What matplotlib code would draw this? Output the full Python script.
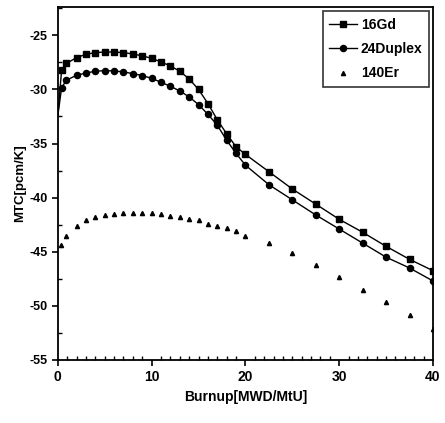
import matplotlib
matplotlib.use("Agg")
import matplotlib.pyplot as plt
from matplotlib.ticker import MultipleLocator

plt.rcParams['font.family'] = ['Liberation Sans Narrow', 'Liberation Sans', 'DejaVu Sans']
plt.rcParams['font.weight'] = 'bold'
plt.rcParams['axes.unicode_minus'] = False

# burnup points (MWD/MtU)
burnup = [0, 0.4, 0.9, 2, 3, 4, 5, 6, 7, 8, 9, 10, 11, 12, 13, 14, 15, 16, 17, 18,
          19, 20, 22.5, 25, 27.5, 30, 32.5, 35, 37.5, 40]

mtc_16gd = [-32.4, -28.2, -27.6, -27.06, -26.75, -26.6, -26.54, -26.54, -26.6, -26.72,
            -26.9, -27.12, -27.46, -27.83, -28.32, -29.03, -30.0, -31.3, -32.8, -34.1,
            -35.3, -36.0, -37.6, -39.2, -40.6, -42.0, -43.2, -44.5, -45.7, -46.75]

mtc_24duplex = [-32.4, -29.85, -29.15, -28.69, -28.48, -28.32, -28.26, -28.29, -28.38, -28.54,
                -28.72, -28.97, -29.34, -29.71, -30.14, -30.69, -31.4, -32.3, -33.3, -34.7,
                -35.9, -37.0, -38.8, -40.2, -41.6, -42.9, -44.2, -45.5, -46.5, -47.7]

burnup_er = [0.3, 0.9, 2, 3, 4, 5, 6, 7, 8, 9, 10, 11, 12, 13, 14, 15, 16, 17, 18, 19,
             20, 22.5, 25, 27.5, 30, 32.5, 35, 37.5, 40]
mtc_140er = [-44.4, -43.5, -42.6, -42.1, -41.8, -41.6, -41.55, -41.46, -41.4, -41.46,
             -41.46, -41.55, -41.7, -41.83, -41.98, -42.1, -42.45, -42.6, -42.85, -43.1,
             -43.5, -44.2, -45.15, -46.2, -47.3, -48.5, -49.6, -50.8, -52.1]

fig = plt.figure(figsize=(4.45, 4.23), dpi=100)
ax = fig.add_axes([0.130, 0.149, 0.843, 0.834])

ax.plot(burnup, mtc_16gd, color='black', lw=1.0, marker='s', ms=4.2,
        markevery=list(range(1, len(burnup))), label='16Gd')
ax.plot(burnup, mtc_24duplex, color='black', lw=1.0, marker='o', ms=4.4,
        markevery=list(range(1, len(burnup))), label='24Duplex')
ax.plot(burnup_er, mtc_140er, color='black', lw=0, marker='^', ms=3.0,
        label='140Er')

ax.set_xlim(0, 40)
ax.set_ylim(-55, -22.4)
ax.xaxis.set_major_locator(MultipleLocator(10))
ax.xaxis.set_minor_locator(MultipleLocator(1))
ax.yaxis.set_major_locator(MultipleLocator(5))
ax.yaxis.set_minor_locator(MultipleLocator(2.5))
ax.tick_params(which='major', direction='out', length=4, width=1.2)
ax.tick_params(axis='x', which='major', labelsize=10)
ax.tick_params(axis='y', which='major', labelsize=9)
ax.tick_params(which='minor', direction='in', length=3, width=1.0)
for s in ax.spines.values():
    s.set_linewidth(1.3)

ax.set_xlabel('Burnup[MWD/MtU]', fontsize=10, fontweight='bold', labelpad=4)
ax.set_ylabel('MTC[pcm/K]', fontsize=9.5, fontweight='bold', labelpad=2)

leg = ax.legend(loc='upper right', fontsize=10, frameon=True, fancybox=False,
                edgecolor='black', handlelength=2.0, borderpad=0.45,
                labelspacing=0.75, handletextpad=0.3, borderaxespad=0.3)
leg.get_frame().set_linewidth(1.2)

fig.savefig('out.png', dpi=100)
